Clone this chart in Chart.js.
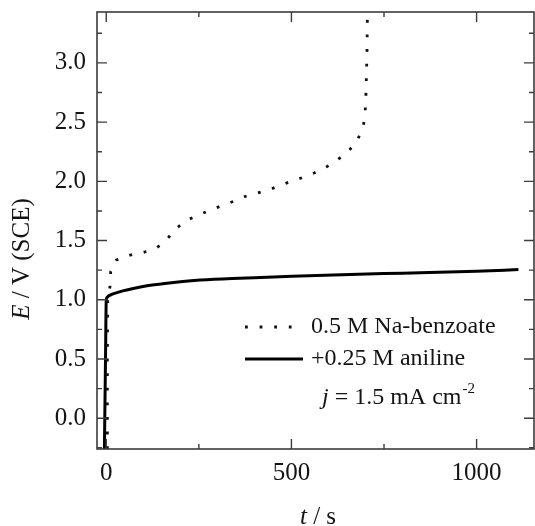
<!DOCTYPE html>
<html><head><meta charset="utf-8">
<script src="https://cdn.jsdelivr.net/npm/chart.js@4/dist/chart.umd.min.js"></script>
<style>html,body{margin:0;padding:0;background:#fff;overflow:hidden}</style>
</head><body>
<canvas id="c" width="535" height="526"></canvas>
<script>
// ---- data ----
const benzoateT = [3, 3, 4, 10, 12, 27, 45, 65, 100, 132, 159, 184, 216, 246, 275, 308, 343, 372, 407, 440, 461, 494, 528, 561, 594, 623, 650, 677, 694, 699, 701, 702, 703, 704, 705];
const benzoateE = [-0.26, 0.5, 1.0, 1.11, 1.24, 1.335, 1.36, 1.378, 1.40, 1.43, 1.49, 1.59, 1.67, 1.71, 1.75, 1.79, 1.83, 1.87, 1.90, 1.93, 1.955, 1.995, 2.03, 2.07, 2.12, 2.18, 2.24, 2.34, 2.46, 2.58, 2.71, 2.83, 2.96, 3.08, 3.37];
const anilineT = [-5, -2, 0, 2, 6, 15, 29, 45, 73, 110, 164, 200, 254, 340, 434, 613, 800, 1000, 1113];
const anilineE = [-0.26, 0.5, 1.0, 1.02, 1.032, 1.045, 1.06, 1.075, 1.096, 1.118, 1.14, 1.152, 1.166, 1.18, 1.19, 1.21, 1.225, 1.24, 1.255];
const xTicks = [0, 500, 1000];
const xMinorTicks = [250, 750];
const yTicks = [0, 0.5, 1.0, 1.5, 2.0, 2.5, 3.0];
const yMinorTicks = [-0.25, 0.25, 0.75, 1.25, 1.75, 2.25, 2.75, 3.25];
const seriesLabels = ['0.5 M Na-benzoate', '+0.25 M aniline'];
const noteMain = ' = 1.5 mA cm';
const noteSup = '-2';
const xTitle = [['t', true], [' / s', false]];
const yTitle = [['E', true], [' / V (SCE)', false]];

const SERIF = '"Liberation Serif", "Times New Roman", serif';
const AXIS_COLOR = '#3c3c3c';
const TEXT_COLOR = '#141414';

function drawMixed(ctx, parts, x, y, size, align) {
  let widths = parts.map(([t, it]) => { ctx.font = (it ? 'italic ' : '') + size + 'px ' + SERIF; return ctx.measureText(t).width; });
  const total = widths.reduce((a, b) => a + b, 0);
  let cx = align === 'center' ? x - total / 2 : x;
  ctx.textBaseline = 'middle';
  ctx.textAlign = 'left';
  parts.forEach(([t, it], i) => {
    ctx.font = (it ? 'italic ' : '') + size + 'px ' + SERIF;
    ctx.fillText(t, cx, y);
    cx += widths[i];
  });
  return cx;
}

const framePlugin = {
  id: 'frame',
  afterDatasetsDraw(chart) {
    const ctx = chart.ctx;
    const a = chart.chartArea;
    const xs = chart.scales.x, ys = chart.scales.y;
    ctx.save();
    ctx.strokeStyle = AXIS_COLOR;
    ctx.lineWidth = 1.6;
    ctx.strokeRect(a.left, a.top, a.right - a.left, a.bottom - a.top);
    ctx.lineWidth = 1.4;
    ctx.beginPath();
    const tick = (v, len, isX) => {
      if (isX) {
        const p = xs.getPixelForValue(v);
        ctx.moveTo(p, a.bottom); ctx.lineTo(p, a.bottom - len);
        ctx.moveTo(p, a.top); ctx.lineTo(p, a.top + len);
      } else {
        const p = ys.getPixelForValue(v);
        ctx.moveTo(a.left, p); ctx.lineTo(a.left + len, p);
        ctx.moveTo(a.right, p); ctx.lineTo(a.right - len, p);
      }
    };
    xTicks.forEach(v => tick(v, 10, true));
    xMinorTicks.forEach(v => tick(v, 5, true));
    yTicks.forEach(v => tick(v, 10, false));
    yMinorTicks.forEach(v => tick(v, 5, false));
    ctx.stroke();

    // legend
    ctx.fillStyle = TEXT_COLOR;
    const ds = chart.data.datasets;
    const rows = [327, 359];
    ds.forEach((d, i) => {
      ctx.save();
      ctx.strokeStyle = d.borderColor;
      ctx.lineWidth = d.borderWidth;
      ctx.setLineDash(d.borderDash || []);
      ctx.beginPath();
      ctx.moveTo(245, rows[i]);
      ctx.lineTo(i === 0 ? 296 : 303, rows[i]);
      ctx.stroke();
      ctx.restore();
      ctx.font = '24px ' + SERIF;
      ctx.textBaseline = 'middle';
      ctx.textAlign = 'left';
      ctx.fillText(d.label, 311, rows[i]);
    });
    const end = drawMixed(ctx, [['j', true], [noteMain, false]], 322, 398, 24, 'left');
    ctx.font = '15px ' + SERIF;
    ctx.textBaseline = 'middle';
    ctx.fillText(noteSup, end + 1, 389);

    // axis titles
    drawMixed(ctx, xTitle, 318, 517, 25, 'center');
    ctx.translate(22, 259);
    ctx.rotate(-Math.PI / 2);
    drawMixed(ctx, yTitle, 0, 0, 25, 'center');
    ctx.restore();
  }
};

new Chart(document.getElementById('c'), {
  type: 'line',
  data: {
    datasets: [
      {
        label: seriesLabels[0],
        data: benzoateT.map((t, i) => ({ x: t, y: benzoateE[i] })),
        borderColor: '#111',
        borderWidth: 2.8,
        borderDash: [2.8, 11.8],
        pointRadius: 0,
        tension: 0,
        fill: false
      },
      {
        label: seriesLabels[1],
        data: anilineT.map((t, i) => ({ x: t, y: anilineE[i] })),
        borderColor: '#000',
        borderWidth: 3,
        pointRadius: 0,
        cubicInterpolationMode: 'monotone',
        fill: false
      }
    ]
  },
  options: {
    responsive: false,
    animation: false,
    devicePixelRatio: 1,
    layout: { padding: { top: 12, right: 1, left: 0, bottom: 0 } },
    plugins: { legend: { display: false }, tooltip: { enabled: false } },
    scales: {
      x: {
        type: 'linear',
        min: -25, max: 1155,
        grid: { display: false, drawTicks: false },
        border: { display: false },
        afterBuildTicks: s => { s.ticks = xTicks.map(v => ({ value: v })); },
        afterFit: s => { s.height = 77; s.paddingLeft = 0; s.paddingRight = 0; },
        ticks: { padding: 9, color: TEXT_COLOR, font: { family: SERIF, size: 25 }, maxRotation: 0, autoSkip: false,
          callback: v => String(v) }
      },
      y: {
        type: 'linear',
        min: -0.26, max: 3.43,
        grid: { display: false, drawTicks: false },
        border: { display: false },
        afterBuildTicks: s => { s.ticks = yTicks.map(v => ({ value: v })); },
        afterFit: s => { s.width = 97; s.paddingTop = 0; s.paddingBottom = 0; },
        ticks: { padding: 11, color: TEXT_COLOR, font: { family: SERIF, size: 25 },
          callback: v => v.toFixed(1), autoSkip: false }
      }
    }
  },
  plugins: [framePlugin]
});
</script>
</body></html>
